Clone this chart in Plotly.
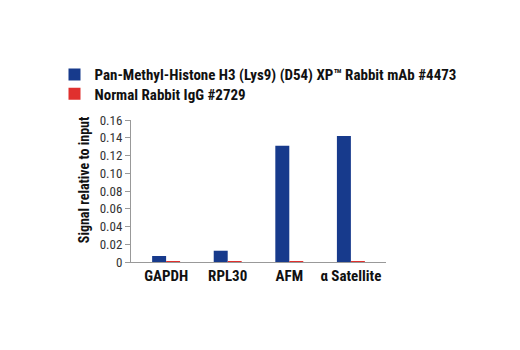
import plotly.graph_objects as go

categories = ["GAPDH", "RPL30", "AFM", "α Satellite"]
pan_methyl = [0.0068, 0.0127, 0.131, 0.142]
normal_igg = [0.0003, 0.0003, 0.0004, 0.0003]
series_names = ["Pan-Methyl-Histone H3 (Lys9) (D54) XP™ Rabbit mAb #4473",
                "Normal Rabbit IgG #2729"]
tick_vals = [0, 0.02, 0.04, 0.06, 0.08, 0.10, 0.12, 0.14, 0.16]
tick_text = ["0", "0.02", "0.04", "0.06", "0.08", "0.10", "0.12", "0.14", "0.16"]
y_title = "Signal relative to input"

FONT = "Liberation Sans Narrow, Arial Narrow, Roboto Condensed, Roboto, sans-serif"
LEG_FONT = dict(family=FONT, size=15, color="#111", weight="bold")

fig = go.Figure()
fig.add_trace(go.Bar(x=categories, y=pan_methyl, name=series_names[0],
                     legend="legend",
                     marker=dict(color="#173a8c", line=dict(width=0))))
fig.add_trace(go.Bar(x=categories, y=normal_igg, name=series_names[1],
                     legend="legend2",
                     marker=dict(color="#e0302e", line=dict(width=0))))

fig.update_layout(
    width=520, height=350,
    margin=dict(l=131, r=134, t=120, b=88),
    paper_bgcolor="white", plot_bgcolor="white",
    barmode="group", bargap=0.546, bargroupgap=0,
    font=dict(family=FONT, color="#222", size=12),
    showlegend=True,
    legend=dict(x=-0.30, y=1.434, xanchor="left", yanchor="top",
                font=LEG_FONT, itemwidth=30, bgcolor="rgba(0,0,0,0)"),
    legend2=dict(x=-0.30, y=1.300, xanchor="left", yanchor="top",
                 font=LEG_FONT, itemwidth=30, bgcolor="rgba(0,0,0,0)"),
    xaxis=dict(range=[-0.57, 3.57], showline=True, linecolor="#999", linewidth=1,
               ticks="", showgrid=False, zeroline=False,
               tickfont=dict(family=FONT, size=15, color="#111", weight="bold")),
    yaxis=dict(range=[0, 0.16], showline=True, linecolor="#999", linewidth=1,
               ticks="outside", ticklen=5, tickcolor="#999",
               tickvals=tick_vals, ticktext=tick_text,
               showgrid=False, zeroline=False,
               tickfont=dict(family=FONT, size=13, color="#333")),
    annotations=[dict(text=y_title, xref="paper", yref="paper",
                      x=-0.184, y=0.577, xanchor="center", yanchor="middle",
                      textangle=-90, showarrow=False,
                      font=dict(family=FONT, size=14, color="#111", weight="bold"))],
)

fig.write_html("out.html")
